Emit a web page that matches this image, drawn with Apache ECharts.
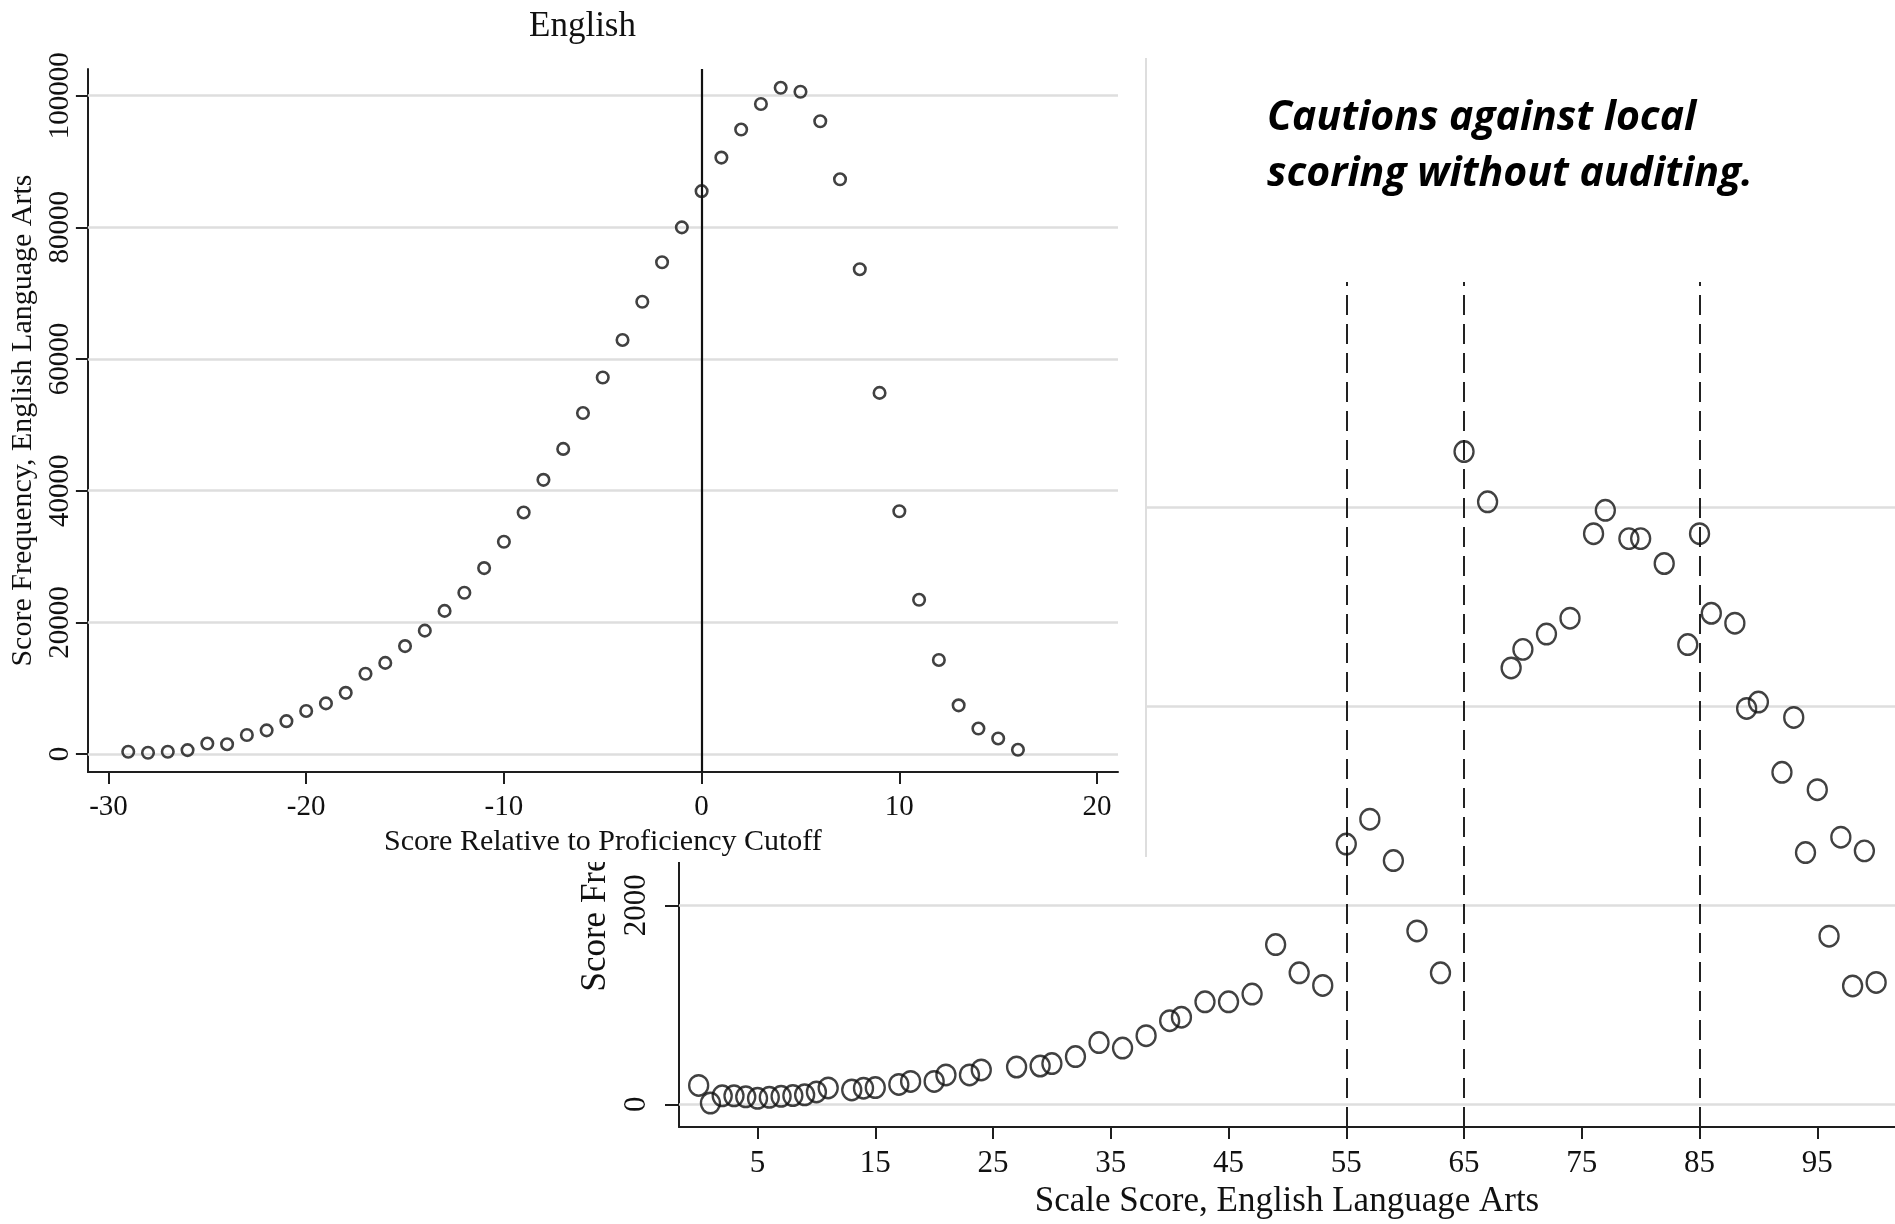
<!DOCTYPE html>
<html><head><meta charset="utf-8">
<script src="https://cdn.jsdelivr.net/npm/echarts@6/dist/echarts.min.js"></script>
<style>
html,body{margin:0;padding:0;background:#fff;}
#wrap{position:relative;width:1895px;height:1224px;overflow:hidden;}
#right{position:absolute;left:0;top:0;width:1895px;height:1224px;z-index:1;}
#left{position:absolute;left:0;top:0;width:1147px;height:862px;z-index:2;background:#fff;}
</style>
</head><body>
<div id="wrap"><div id="right"></div><div id="left"></div></div>
<script>
// ---- Left panel: score relative to proficiency cutoff ----
const relScore = [-29,-28,-27,-26,-25,-24,-23,-22,-21,-20,-19,-18,-17,-16,-15,-14,-13,-12,-11,-10,-9,-8,-7,-6,-5,-4,-3,-2,-1,0,1,2,3,4,5,6,7,8,9,10,11,12,13,14,15,16];
const relFreq = [350,200,350,600,1600,1500,2900,3600,5000,6550,7700,9300,12200,13850,16400,18750,21750,24500,28250,32250,36700,41650,46350,51800,57200,62900,68700,74700,80000,85500,90600,94860,98740,101200,100600,96120,87300,73650,54860,36880,23430,14300,7400,3880,2370,650];
const relTicksX = [-30,-20,-10,0,10,20];
const relTicksY = [0,20000,40000,60000,80000,100000];
const relCutoff = [0];

// ---- Right panel: scale score ----
const scaleScore = [0,1,2,3,4,5,6,7,8,9,10,11,13,14,15,17,18,20,21,23,24,27,29,30,32,34,36,38,40,41,43,45,47,49,51,53,55,57,59,61,63,65,67,69,70,72,74,76,77,79,80,82,84,85,86,88,89,90,92,93,94,95,96,97,98,99,100];
const scaleFreq = [190,13,85,85,75,60,70,80,88,95,124,165,145,162,168,200,230,230,295,295,345,375,385,410,480,620,565,690,840,875,1030,1030,1108,1605,1322,1195,2615,2866,2450,1742,1322,6560,6055,4385,4572,4726,4885,5735,5970,5685,5685,5435,4620,5735,4935,4835,3978,4042,3336,3888,2530,3162,1690,2684,1190,2547,1225];
const scaleTicksX = [5,15,25,35,45,55,65,75,85,95];
const scaleTicksY = [0,2000,4000,6000];
const scaleCutoffs = [55,65,85];

const SERIF = "'Liberation Serif','Times New Roman',serif";
const INK = '#111';
const AX = '#1e1e1e';
const GRID = '#dedede';

function pairs(xs, ys){ return xs.map((x,i)=>[x, ys[i]]); }

// ---------- Right chart ----------
const rightChart = echarts.init(document.getElementById('right'), null, {renderer:'canvas'});
rightChart.setOption({
  animation:false,
  backgroundColor:'#fff',
  grid:{left:679, top:282, right:0, bottom:97, containLabel:false},
  xAxis:{
    type:'value', min:-1.67, max:101.6,
    axisLine:{show:true,onZero:false,lineStyle:{color:AX,width:2}},
    axisTick:{show:true,length:12,customValues:scaleTicksX,lineStyle:{color:AX,width:2}},
    axisLabel:{customValues:scaleTicksX,fontFamily:SERIF,fontSize:31,color:INK,margin:21,formatter:v=>String(v)},
    splitLine:{show:false},
    name:'Scale Score, English Language Arts', nameLocation:'middle', nameGap:54,
    nameTextStyle:{fontFamily:SERIF,fontSize:35,color:INK}
  },
  yAxis:{
    type:'value', min:-228, max:8264,
    axisLine:{show:true,onZero:false,lineStyle:{color:AX,width:2}},
    axisTick:{show:true,length:14,customValues:scaleTicksY,lineStyle:{color:AX,width:2}},
    axisLabel:{customValues:scaleTicksY,rotate:90,fontFamily:SERIF,fontSize:31,color:INK,margin:27,formatter:v=>String(v)},
    splitLine:{show:false},
    name:'Score Frequency, English Language Arts', nameLocation:'middle', nameGap:61,
    nameTextStyle:{fontFamily:SERIF,fontSize:35,color:INK}
  },
  series:[{
    type:'scatter', z:10,
    data:pairs(scaleScore, scaleFreq),
    symbol:'circle', symbolSize:[19,20.5],
    itemStyle:{color:'rgba(0,0,0,0)',borderColor:'#111',borderWidth:2.4},
    silent:true,
    markLine:{
      silent:true, symbol:'none', animation:false, label:{show:false},
      data: scaleTicksY.map(v=>({yAxis:v, lineStyle:{color:GRID,width:2.5,type:'solid'}}))
        .concat(scaleCutoffs.map(v=>({xAxis:v, lineStyle:{color:'#222',width:2,type:[20,9]}})))
    }
  }],
  graphic:[
    {type:'text', x:1267, y:118, silent:true,
     style:{text:'Cautions against local', font:"italic bold 41px 'Open Sans'", fill:'#000', align:'left', textAlign:'left', verticalAlign:'middle', textVerticalAlign:'middle'}},
    {type:'text', x:1267, y:174, silent:true,
     style:{text:'scoring without auditing.', font:"italic bold 41px 'Open Sans'", fill:'#000', align:'left', textAlign:'left', verticalAlign:'middle', textVerticalAlign:'middle'}}
  ]
});

// ---------- Left chart (overlaid panel) ----------
const leftChart = echarts.init(document.getElementById('left'), null, {renderer:'canvas'});
leftChart.setOption({
  animation:false,
  backgroundColor:'#fff',
  grid:{left:87, top:69, width:1031, height:706, containLabel:false},
  xAxis:{
    type:'value', min:-31.04, max:21.06,
    axisLine:{show:true,onZero:false,lineStyle:{color:AX,width:2}},
    axisTick:{show:true,length:12,customValues:relTicksX,lineStyle:{color:AX,width:2}},
    axisLabel:{customValues:relTicksX,fontFamily:SERIF,fontSize:29,color:INK,margin:21,formatter:v=>String(v)},
    splitLine:{show:false},
    name:'Score Relative to Proficiency Cutoff', nameLocation:'middle', nameGap:48,
    nameTextStyle:{fontFamily:SERIF,fontSize:30,color:INK}
  },
  yAxis:{
    type:'value', min:-2738, max:104055,
    axisLine:{show:true,onZero:false,lineStyle:{color:AX,width:2}},
    axisTick:{show:true,length:12,customValues:relTicksY,lineStyle:{color:AX,width:2}},
    axisLabel:{customValues:relTicksY,rotate:90,fontFamily:SERIF,fontSize:29,color:INK,margin:13,formatter:v=>String(v)},
    splitLine:{show:false},
    name:'Score Frequency, English Language Arts', nameLocation:'middle', nameGap:46,
    nameTextStyle:{fontFamily:SERIF,fontSize:30,color:INK}
  },
  series:[{
    type:'scatter', z:10,
    data:pairs(relScore, relFreq),
    symbol:'circle', symbolSize:11.5,
    itemStyle:{color:'rgba(0,0,0,0)',borderColor:'#111',borderWidth:2.6},
    silent:true,
    markLine:{
      silent:true, symbol:'none', animation:false, label:{show:false},
      data: relTicksY.map(v=>({yAxis:v, lineStyle:{color:GRID,width:2.5,type:'solid'}}))
        .concat(relCutoff.map(v=>({xAxis:v, lineStyle:{color:'#111',width:2.2,type:'solid'}})))
    }
  }],
  graphic:[
    {type:'text', x:582.5, y:27, silent:true,
     style:{text:'English', font:"35px 'Liberation Serif'", fill:INK, align:'center', textAlign:'center', verticalAlign:'middle', textVerticalAlign:'middle'}},
    {type:'line', silent:true, shape:{x1:1146, y1:58, x2:1146, y2:857}, style:{stroke:'#dedede', lineWidth:2}}
  ]
});
</script>
</body></html>
